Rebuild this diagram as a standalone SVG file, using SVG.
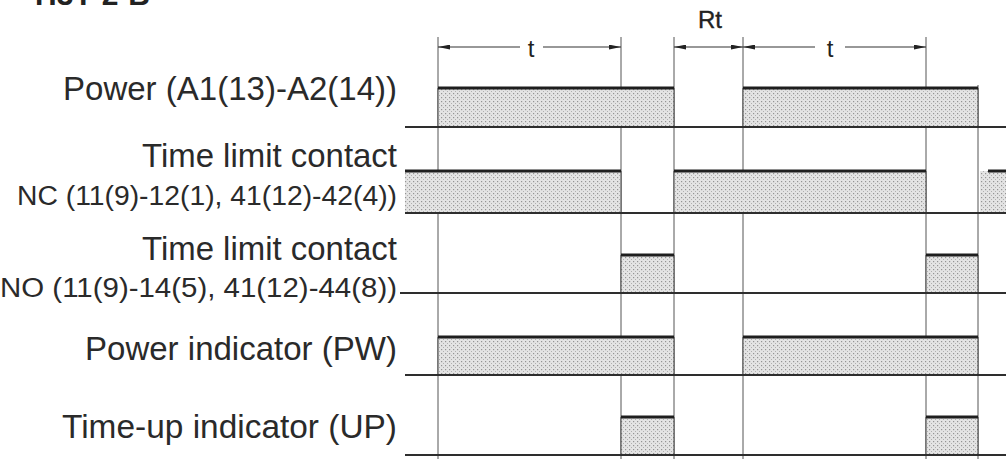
<svg xmlns="http://www.w3.org/2000/svg" width="1006" height="459" viewBox="0 0 1006 459">
<style>
.lbl{font-family:"Liberation Sans",Arial,sans-serif;fill:#2a2a2a;text-anchor:end}
.big{font-size:33px}
.small{font-size:27px}
.dim{font-family:"Liberation Sans",Arial,sans-serif;fill:#222;font-size:24px;text-anchor:middle}
.base{stroke:#2e2e2e;stroke-width:2;fill:none}
.high{stroke:#1e1e1e;stroke-width:3;fill:none}
.edge{stroke:#444;stroke-width:1;fill:none}
.fill{fill:url(#dots)}
.vline{stroke:#555;stroke-width:1}
.dline{stroke:#333;stroke-width:1.2;fill:none}
</style>
<defs>
<pattern id="dots" width="4" height="4" patternUnits="userSpaceOnUse">
<rect width="4" height="4" fill="#e4e4e4"/>
<rect x="1" y="1" width="1.2" height="1.2" fill="#949494"/>
<rect x="3" y="3" width="1.2" height="1.2" fill="#b0b0b0"/>
</pattern>
<marker id="arr" viewBox="0 0 10 4" refX="10" refY="2" markerWidth="12" markerHeight="5" markerUnits="userSpaceOnUse" orient="auto-start-reverse">
<path d="M0,0 L10,2 L0,4 z" fill="#222"/>
</marker>
</defs>
<rect width="1006" height="459" fill="#fff"/>
<text x="35" y="5" font-family="Liberation Sans,Arial,sans-serif" font-weight="bold" font-size="30" fill="#222">H3Y-2-B</text>

<g id="guides">
<line class="vline" x1="438" y1="37" x2="438" y2="459"/>
<line class="vline" x1="621" y1="37" x2="621" y2="459"/>
<line class="vline" x1="674" y1="37" x2="674" y2="459"/>
<line class="vline" x1="743" y1="37" x2="743" y2="459"/>
<line class="vline" x1="926" y1="37" x2="926" y2="459"/>
<line class="vline" x1="978" y1="85" x2="978" y2="459"/>
</g>

<g id="connectors">
<line class="dline" x1="520" y1="47" x2="438" y2="47" marker-end="url(#arr)"/>
<line class="dline" x1="543" y1="47" x2="621" y2="47" marker-end="url(#arr)"/>
<line class="dline" x1="674" y1="47" x2="743" y2="47" marker-start="url(#arr)" marker-end="url(#arr)"/>
<line class="dline" x1="815" y1="47" x2="743" y2="47" marker-end="url(#arr)"/>
<line class="dline" x1="845" y1="47" x2="926" y2="47" marker-end="url(#arr)"/>
<text class="dim" x="531" y="57">t</text>
<text class="dim" x="830" y="57">t</text>
<text class="dim" x="710" y="28" font-size="19" stroke="#222" stroke-width="0.4">Rt</text>
</g>

<g id="row-power">
<text class="lbl big" x="397" y="100" textLength="334" lengthAdjust="spacingAndGlyphs">Power (A1(13)-A2(14))</text>
<rect class="fill" x="438" y="88" width="236" height="39"/>
<rect class="fill" x="743" y="88" width="235" height="39"/>
<path class="edge" d="M438,88 V127 M674,88 V127 M743,88 V127 M978,88 V127"/>
<path class="high" d="M438,88 H674 M743,88 H978"/>
<line class="base" x1="405" y1="127" x2="1006" y2="127"/>
</g>

<g id="row-nc">
<text class="lbl big" x="397" y="167" textLength="255" lengthAdjust="spacingAndGlyphs">Time limit contact</text>
<text class="lbl small" x="397" y="205" textLength="380" lengthAdjust="spacingAndGlyphs">NC (11(9)-12(1), 41(12)-42(4))</text>
<rect class="fill" x="405" y="171" width="216" height="42"/>
<rect class="fill" x="674" y="171" width="252" height="42"/>
<rect class="fill" x="980" y="171" width="26" height="42"/>
<path class="edge" d="M621,171 V213 M674,171 V213 M926,171 V213"/>
<path class="high" d="M405,171 H621 M674,171 H926 M988,171 H1006"/>
<line class="base" x1="405" y1="213" x2="1006" y2="213"/>
</g>

<g id="row-no">
<text class="lbl big" x="397" y="260" textLength="255" lengthAdjust="spacingAndGlyphs">Time limit contact</text>
<text class="lbl small" x="397" y="297" textLength="397" lengthAdjust="spacingAndGlyphs">NO (11(9)-14(5), 41(12)-44(8))</text>
<rect class="fill" x="621" y="255" width="53" height="38"/>
<rect class="fill" x="926" y="255" width="52" height="38"/>
<path class="edge" d="M621,255 V293 M674,255 V293 M926,255 V293 M978,255 V293"/>
<path class="high" d="M621,255 H674 M926,255 H978"/>
<line class="base" x1="400" y1="293" x2="1006" y2="293"/>
</g>

<g id="row-pw">
<text class="lbl big" x="397" y="360" textLength="312" lengthAdjust="spacingAndGlyphs">Power indicator (PW)</text>
<rect class="fill" x="438" y="337" width="236" height="38"/>
<rect class="fill" x="743" y="337" width="235" height="38"/>
<path class="edge" d="M438,337 V375 M674,337 V375 M743,337 V375 M978,337 V375"/>
<path class="high" d="M438,337 H674 M743,337 H978"/>
<line class="base" x1="405" y1="375" x2="1006" y2="375"/>
</g>

<g id="row-up">
<text class="lbl big" x="397" y="438" textLength="335" lengthAdjust="spacingAndGlyphs">Time-up indicator (UP)</text>
<rect class="fill" x="621" y="417" width="53" height="38"/>
<rect class="fill" x="926" y="417" width="52" height="38"/>
<path class="edge" d="M621,417 V455 M674,417 V455 M926,417 V455 M978,417 V455"/>
<path class="high" d="M621,417 H674 M926,417 H978"/>
<line class="base" x1="405" y1="455" x2="1006" y2="455"/>
</g>
</svg>
